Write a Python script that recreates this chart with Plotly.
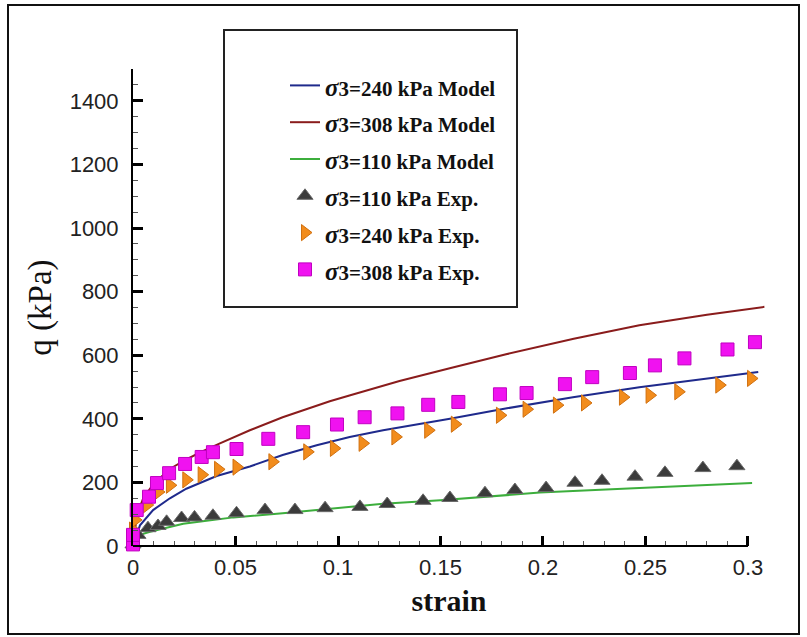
import plotly.graph_objects as go

# ---- data ----
model_308_x = [0, 0.002, 0.005, 0.01, 0.015, 0.02, 0.026, 0.033, 0.0424, 0.057, 0.073, 0.096, 0.106, 0.13, 0.155, 0.182, 0.215, 0.247, 0.28, 0.308]
model_308_q = [0, 100, 150, 195, 225, 250, 272, 295, 323, 364, 405, 455, 474, 519, 560, 603, 652, 694, 727, 752]

model_240_x = [0, 0.0034, 0.0098, 0.018, 0.026, 0.0408, 0.057, 0.073, 0.0896, 0.1057, 0.122, 0.1385, 0.1546, 0.1824, 0.2146, 0.247, 0.28, 0.305]
model_240_q = [0, 65, 113, 150, 180, 220, 250, 286, 317, 343, 364, 382, 400, 433, 468, 499, 527, 547]

model_110_x = [0, 0.0034, 0.0083, 0.018, 0.0245, 0.034, 0.049, 0.073, 0.0976, 0.122, 0.15, 0.1985, 0.247, 0.302]
model_110_q = [0, 35, 45, 61, 70, 78, 90, 103, 119, 133, 144, 168, 182, 198]

exp_110_x = [0, 0.0024, 0.0073, 0.0122, 0.0164, 0.0237, 0.030, 0.039, 0.0505, 0.0644, 0.079, 0.0937, 0.1107, 0.124, 0.1415, 0.1546, 0.1717, 0.1863, 0.2015, 0.2156, 0.2288, 0.2449, 0.2595, 0.278, 0.2946]
exp_110_q = [5, 35, 56, 63, 76, 88, 90, 95, 103, 113, 113, 119, 123, 132, 142, 151, 166, 176, 182, 199, 205, 218, 230, 245, 251]

exp_240_x = [0, 0.001, 0.0067, 0.0122, 0.018, 0.026, 0.0335, 0.0415, 0.0505, 0.068, 0.085, 0.098, 0.112, 0.128, 0.144, 0.157, 0.179, 0.192, 0.2068, 0.2205, 0.239, 0.252, 0.266, 0.286, 0.3015]
exp_240_q = [50, 82, 129, 170, 191, 208, 224, 241, 248, 265, 296, 307, 323, 343, 364, 383, 411, 430, 443, 450, 468, 474, 485, 506, 527]

exp_308_x = [0, 0, 0.0018, 0.0078, 0.0117, 0.0176, 0.0254, 0.0335, 0.039, 0.0505, 0.066, 0.083, 0.0995, 0.113, 0.129, 0.144, 0.1587, 0.179, 0.192, 0.2107, 0.224, 0.2424, 0.2546, 0.269, 0.290, 0.3034]
exp_308_q = [5, 35, 113, 155, 198, 229, 258, 280, 295, 305, 337, 358, 382, 405, 417, 444, 453, 477, 481, 509, 531, 544, 568, 590, 618, 641]

x_ticks = [0, 0.05, 0.1, 0.15, 0.2, 0.25, 0.3]
x_tick_labels = ["0", "0.05", "0.1", "0.15", "0.2", "0.25", "0.3"]
y_ticks = [0, 200, 400, 600, 800, 1000, 1200, 1400]
y_tick_labels = [str(v) for v in y_ticks]

def lname(rest):
    return ('<b><span style="font-size:25px;font-style:italic">σ</span>'
            '<span style="font-size:21px">' + rest + '</span></b>')

fig = go.Figure()
fig.add_trace(go.Scatter(x=model_240_x, y=model_240_q, mode="lines", name=lname("3=240 kPa Model"),
                         line=dict(color="#1f2a8c", width=2), cliponaxis=False))
fig.add_trace(go.Scatter(x=model_308_x, y=model_308_q, mode="lines", name=lname("3=308 kPa Model"),
                         line=dict(color="#8a1c1c", width=2), cliponaxis=False))
fig.add_trace(go.Scatter(x=model_110_x, y=model_110_q, mode="lines", name=lname("3=110 kPa Model"),
                         line=dict(color="#3cae3c", width=2), cliponaxis=False))
fig.add_trace(go.Scatter(x=exp_110_x, y=exp_110_q, mode="markers", name=lname("3=110 kPa Exp."),
                         marker=dict(symbol="triangle-up", size=14, color="#3b3b3b",
                                     line=dict(color="#6a6a6a", width=1)), cliponaxis=False))
fig.add_trace(go.Scatter(x=exp_240_x, y=exp_240_q, mode="markers", name=lname("3=240 kPa Exp."),
                         marker=dict(symbol="triangle-right", size=14, color="#f28c1c",
                                     line=dict(color="#d07010", width=1)), cliponaxis=False))
fig.add_trace(go.Scatter(x=exp_308_x, y=exp_308_q, mode="markers", name=lname("3=308 kPa Exp."),
                         marker=dict(symbol="square", size=13, color="#f012f0",
                                     line=dict(color="#c000c0", width=1)), cliponaxis=False))

W, H = 807, 637
L, R, T, B = 133, 765, 69, 546
def px_x(p):
    return (p - L) / (R - L)
def px_y(p):
    return (B - p) / (B - T)

shapes = [
    dict(type="line", xref="x", yref="paper", x0=0, x1=0.3, y0=0, y1=0,
         line=dict(color="black", width=2)),
    dict(type="rect", xref="paper", yref="paper", x0=px_x(224), x1=px_x(517), y0=px_y(30), y1=px_y(307),
         line=dict(color="#222", width=2), fillcolor="rgba(0,0,0,0)"),
    dict(type="rect", xref="paper", yref="paper", x0=px_x(8), x1=px_x(799), y0=px_y(5), y1=px_y(634),
         line=dict(color="#111", width=2), fillcolor="rgba(0,0,0,0)"),
]

fig.update_layout(
    width=W, height=H,
    margin=dict(l=L, r=W - R, t=T, b=H - B),
    paper_bgcolor="white", plot_bgcolor="white",
    showlegend=True,
    legend=dict(x=px_x(285), y=px_y(62), xanchor="left", yanchor="top",
                bgcolor="rgba(0,0,0,0)", borderwidth=0,
                font=dict(family="Liberation Serif", size=26, color="#111"),
                tracegroupgap=0),
    shapes=shapes,
    font=dict(family="Liberation Sans"),
)

fig.update_xaxes(
    range=[0, 0.3083], showline=False, showgrid=False, zeroline=False,
    tickmode="array", tickvals=x_ticks, ticktext=x_tick_labels,
    ticks="inside", ticklen=10, tickwidth=3, tickcolor="black",
    minor=dict(dtick=0.01, tick0=0, ticks="inside", ticklen=5, tickwidth=1, tickcolor="#555"),
    tickfont=dict(family="Liberation Sans", size=22, color="#222"),
    ticklabelstandoff=6,
    title=dict(text="<b>strain</b>", font=dict(family="Liberation Serif", size=30, color="#111"), standoff=10),
)
fig.update_yaxes(
    range=[0, 1500], showline=True, linecolor="black", linewidth=2, showgrid=False, zeroline=False,
    tickmode="array", tickvals=y_ticks, ticktext=y_tick_labels,
    ticks="inside", ticklen=10, tickwidth=3, tickcolor="black",
    minor=dict(dtick=50, tick0=0, ticks="inside", ticklen=5, tickwidth=1, tickcolor="#555"),
    tickfont=dict(family="Liberation Sans", size=22, color="#222"),
    ticklabelstandoff=8,
    title=dict(text="q (kPa)", font=dict(family="Liberation Serif", size=33, color="#111"), standoff=8),
)

fig.write_html("out.html")
